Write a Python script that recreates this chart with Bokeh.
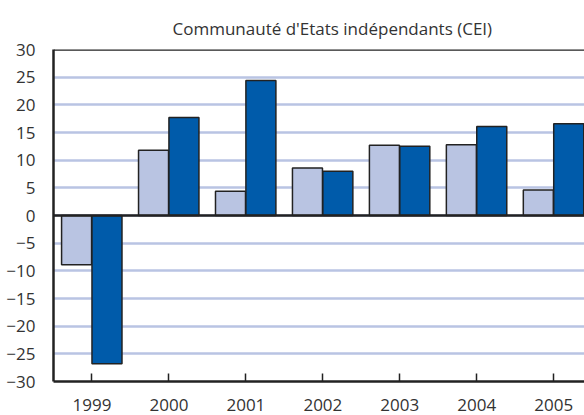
from bokeh.plotting import figure
from bokeh.models import ColumnDataSource, Range1d, FixedTicker, Span
from bokeh.transform import dodge
from bokeh.embed import file_html
from bokeh.resources import INLINE

years = ["1999", "2000", "2001", "2002", "2003", "2004", "2005"]
series_light = [-8.9, 11.8, 4.4, 8.6, 12.7, 12.8, 4.6]
series_dark = [-26.8, 17.7, 24.4, 8.0, 12.5, 16.1, 16.6]
y_ticks = [-30, -25, -20, -15, -10, -5, 0, 5, 10, 15, 20, 25, 30]
title_text = "Communauté d'Etats indépendants (CEI)"

FONT = "Open Sans"
TXT = "#333333"
LIGHT = "#b9c4e2"
DARK = "#005baa"
EDGE = "#222222"

src = ColumnDataSource(dict(x=list(range(len(years))), light=series_light, dark=series_dark))

p = figure(width=584, height=415, x_range=Range1d(-0.5, 6.4), y_range=Range1d(-30, 30),
           output_backend="svg", toolbar_location=None,
           min_border_left=53, min_border_right=0, min_border_top=49, min_border_bottom=34)

p.title.text = title_text
p.title.text_font = FONT
p.title.text_font_size = "17px"
p.title.text_font_style = "normal"
p.title.text_color = TXT
p.title.align = "left"
p.title.offset = 119
p.title.standoff = 20

p.vbar(x=dodge("x", -0.2, range=p.x_range), top="light", bottom=0, width=0.39, source=src,
       fill_color=LIGHT, line_color=EDGE, line_width=1.5)
p.vbar(x=dodge("x", 0.195, range=p.x_range), top="dark", bottom=0, width=0.39, source=src,
       fill_color=DARK, line_color=EDGE, line_width=1.5)

p.xgrid.visible = False
p.ygrid.ticker = FixedTicker(ticks=y_ticks)
p.ygrid.grid_line_color = "#b9c4e3"
p.ygrid.grid_line_width = 2.5
p.ygrid.level = "underlay"

p.outline_line_color = None
p.background_fill_color = "white"
p.border_fill_color = "white"

p.add_layout(Span(location=0, dimension="width", line_color=EDGE, line_width=2.5))
p.add_layout(Span(location=30, dimension="width", line_color=EDGE, line_width=2.5))

xa = p.xaxis[0]
xa.ticker = FixedTicker(ticks=list(range(len(years))))
xa.major_label_overrides = {i: y for i, y in enumerate(years)}
xa.axis_line_color = EDGE
xa.axis_line_width = 2.5
xa.major_tick_in = 8
xa.major_tick_out = 0
xa.major_tick_line_color = EDGE
xa.major_tick_line_width = 1.5
xa.minor_tick_line_color = None
xa.major_label_standoff = 17
xa.major_label_text_font = FONT
xa.major_label_text_font_size = "17px"
xa.major_label_text_line_height = 0.7
xa.major_label_text_color = TXT

ya = p.yaxis[0]
ya.ticker = FixedTicker(ticks=y_ticks)
ya.axis_line_color = EDGE
ya.axis_line_width = 2.5
ya.major_tick_in = 0
ya.major_tick_out = 0
ya.minor_tick_line_color = None
ya.major_label_standoff = 18
ya.major_label_text_font = FONT
ya.major_label_text_font_size = "17px"
ya.major_label_text_color = TXT

open("out.html", "w").write(file_html(p, INLINE))
